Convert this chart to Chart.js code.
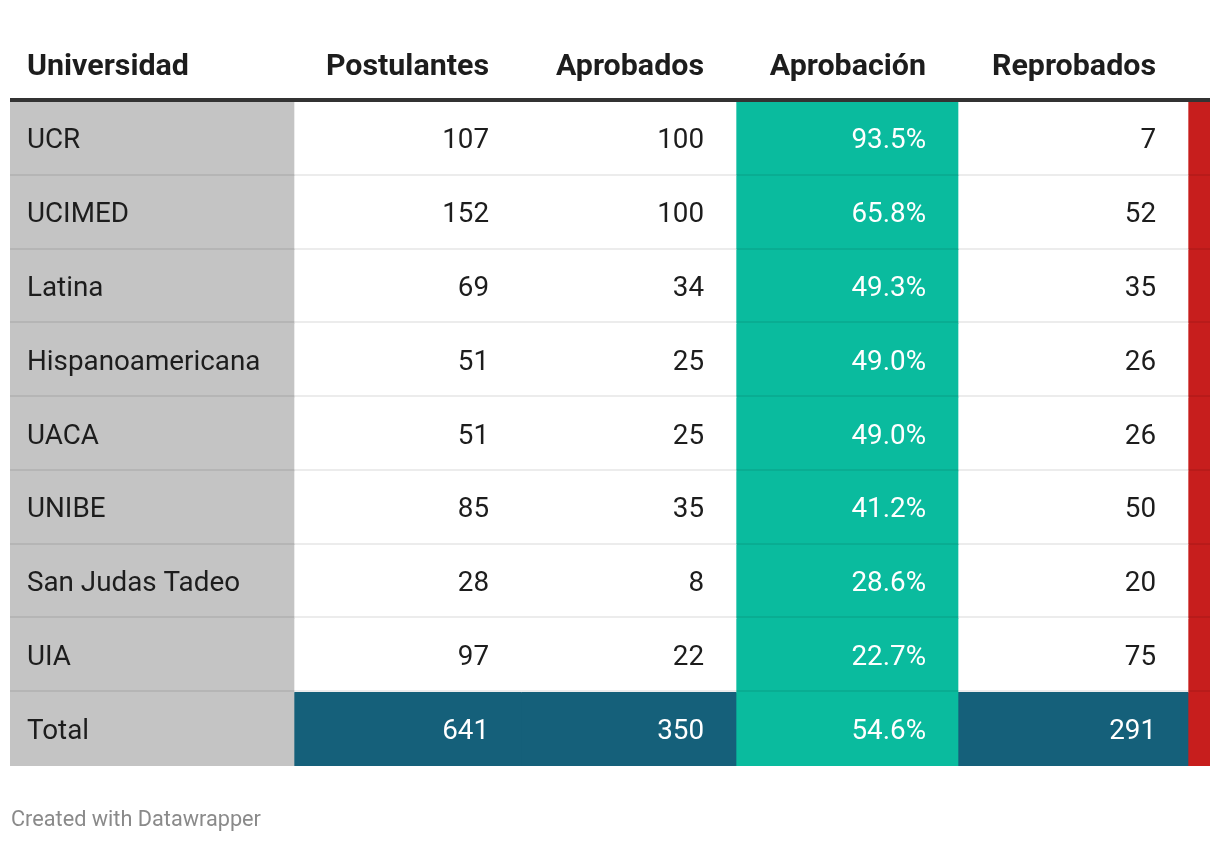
<!DOCTYPE html>
<html>
<head>
<meta charset="utf-8">
<script src="https://cdn.jsdelivr.net/npm/chart.js@4.4.1/dist/chart.umd.min.js"></script>
<style>
    body { margin: 0; background: #fff; }
    #wrap { position: relative; width: 1220px; height: 842px; }
    #footer { position: absolute; left: 11px; top: 809px; font: 21.7px Roboto, sans-serif; line-height: 20px; color: #8a8a8a; }
</style>
</head>
<body>
<div id="wrap">
    <canvas id="tabla" width="1220" height="842"></canvas>
    <div id="footer">Created with Datawrapper</div>
</div>
<script>
const columnas = ['Universidad', 'Postulantes', 'Aprobados', 'Aprobación', 'Reprobados'];
const universidades = ['UCR', 'UCIMED', 'Latina', 'Hispanoamericana', 'UACA', 'UNIBE', 'San Judas Tadeo', 'UIA', 'Total'];
const postulantes = [107, 152, 69, 51, 51, 85, 28, 97, 641];
const aprobados = [100, 100, 34, 25, 25, 35, 8, 22, 350];
const aprobacion = [93.5, 65.8, 49.3, 49.0, 49.0, 41.2, 28.6, 22.7, 54.6];
const reprobados = [7, 52, 35, 26, 26, 50, 20, 75, 291];

// layout: column edges in px from the table's left edge
const colEdges = [0, 284, 511, 726, 948, 1178, 1200];
const PAD_LEFT = 17;
const PAD_RIGHT = 32;

const GRAY = '#c4c4c4';
const TEAL = '#0abb9e';
const BLUE = '#15607a';
const RED = '#c71e1d';
const TEXT = '#1d1d1d';

const totalRow = universidades.length - 1;

function cellColor(col) {
    return (ctx) => {
        const total = ctx.dataIndex === totalRow;
        if (col === 0) return GRAY;
        if (col === 3) return TEAL;
        if (col === 5) return RED;
        return total ? BLUE : '#ffffff';
    };
}

const datasets = colEdges.slice(0, -1).map((start, c) => ({
    label: c < columnas.length ? columnas[c] : '',
    data: universidades.map(() => [start, colEdges[c + 1]]),
    backgroundColor: cellColor(c),
    borderWidth: 0,
    barPercentage: 1,
    categoryPercentage: 1,
    grouped: false
}));

function cellText(col, i) {
    if (col === 0) return universidades[i];
    if (col === 1) return String(postulantes[i]);
    if (col === 2) return String(aprobados[i]);
    if (col === 3) return aprobacion[i].toFixed(1) + '%';
    if (col === 4) return String(reprobados[i]);
    return '';
}

const tablePlugin = {
    id: 'tablePlugin',
    afterDatasetsDraw(chart) {
        const { ctx, chartArea, scales: { x, y } } = chart;
        const band = Math.abs(y.getPixelForValue(1) - y.getPixelForValue(0));
        ctx.save();

        // row separators
        ctx.fillStyle = 'rgba(0,0,0,0.075)';
        for (let i = 1; i < universidades.length; i++) {
            const yy = Math.round(y.getPixelForValue(i) - band / 2);
            ctx.fillRect(chartArea.left, yy - 2, chartArea.width, 2);
        }

        // header rule
        ctx.fillStyle = '#333333';
        ctx.fillRect(chartArea.left, chartArea.top - 4, chartArea.width, 4);

        // header labels
        ctx.font = 'bold 30.4px Roboto';
        ctx.fillStyle = TEXT;
        ctx.textBaseline = 'alphabetic';
        columnas.forEach((name, c) => {
            if (c === 0) {
                ctx.textAlign = 'left';
                ctx.fillText(name, x.getPixelForValue(colEdges[0] + PAD_LEFT), chartArea.top - 27.5);
            } else {
                ctx.textAlign = 'right';
                ctx.fillText(name, x.getPixelForValue(colEdges[c + 1] - PAD_RIGHT), chartArea.top - 27.5);
            }
        });

        // cell values
        ctx.font = '27.8px Roboto';
        universidades.forEach((u, i) => {
            const yy = y.getPixelForValue(i) + 9.5;
            for (let c = 0; c < columnas.length; c++) {
                const white = c === 3 || (i === totalRow && c !== 0);
                ctx.fillStyle = white ? '#ffffff' : TEXT;
                if (c === 0) {
                    ctx.textAlign = 'left';
                    ctx.fillText(cellText(c, i), x.getPixelForValue(colEdges[0] + PAD_LEFT), yy);
                } else {
                    ctx.textAlign = 'right';
                    ctx.fillText(cellText(c, i), x.getPixelForValue(colEdges[c + 1] - PAD_RIGHT), yy);
                }
            }
        });
        ctx.restore();
    }
};

function draw() {
    new Chart(document.getElementById('tabla'), {
        type: 'bar',
        data: { labels: universidades, datasets: datasets },
        options: {
            indexAxis: 'y',
            responsive: false,
            animation: false,
            layout: { padding: { left: 10, right: 10, top: 102, bottom: 76 } },
            plugins: { legend: { display: false }, tooltip: { enabled: false } },
            scales: {
                x: { type: 'linear', min: 0, max: colEdges[colEdges.length - 1], display: false },
                y: { type: 'category', offset: true, display: false }
            }
        },
        plugins: [tablePlugin]
    });
}

if (document.fonts && document.fonts.load) {
    Promise.all([document.fonts.load('bold 30px Roboto'), document.fonts.load('28px Roboto')]).then(draw, draw);
} else {
    draw();
}
</script>
</body>
</html>
